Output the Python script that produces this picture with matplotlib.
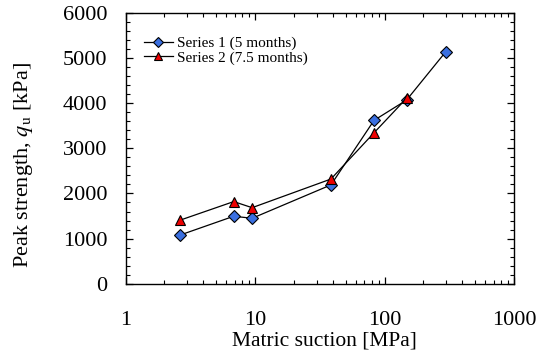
import matplotlib
matplotlib.use("Agg")
import matplotlib.pyplot as plt
from matplotlib.ticker import MultipleLocator, LogLocator, NullFormatter, FixedLocator

plt.rcParams['font.family'] = ['Liberation Serif', 'DejaVu Serif']
plt.rcParams['mathtext.fontset'] = 'stix'

# data
suction_1 = [2.65, 6.85, 9.5, 38.6, 83, 148, 297]
strength_1 = [1080, 1495, 1450, 2190, 3620, 4070, 5140]
suction_2 = [2.65, 6.85, 9.5, 38.6, 83, 148]
strength_2 = [1410, 1820, 1685, 2320, 3345, 4110]
label_1 = 'Series 1 (5 months)'
label_2 = 'Series 2 (7.5 months)'

fig = plt.figure(figsize=(5.47, 3.51), dpi=100)
ax = fig.add_axes([125.5 / 547, 1 - 283.7 / 351, (514 - 125.5) / 547, (283.7 - 13) / 351])

ax.plot(suction_1, strength_1, color='black', lw=0.9, marker='D', ms=6,
        mfc='#3a6fe0', mec='black', mew=0.8, label=label_1)
ax.plot(suction_2, strength_2, color='black', lw=0.9, marker='^', ms=7.5,
        mfc='#ee0000', mec='black', mew=0.8, label=label_2)

ax.set_xscale('log')
ax.set_xlim(1, 1000)
ax.set_ylim(0, 6000)
ax.yaxis.set_major_locator(MultipleLocator(1000))
ax.yaxis.set_minor_locator(MultipleLocator(200))
ax.xaxis.set_major_locator(FixedLocator([1, 10, 100, 1000]))
ax.xaxis.set_minor_locator(LogLocator(base=10, subs=range(2, 10)))
ax.xaxis.set_minor_formatter(NullFormatter())
ax.set_xticklabels(['1', '10', '100', '1000'])

ax.tick_params(which='both', direction='in', top=True, right=True, labelsize=16)
ax.tick_params(which='major', length=5, width=0.9)
ax.tick_params(which='minor', length=3, width=0.8)
ax.tick_params(axis='x', which='major', pad=20)
ax.tick_params(axis='y', which='major', pad=13)
for s in ax.spines.values():
    s.set_linewidth(1.0)

ax.set_xlabel('Matric suction [MPa]', fontsize=15.5)
ax.set_ylabel(r'Peak strength, $q$$_{\rm u}$ [kPa]', fontsize=16)
ax.xaxis.set_label_coords(0.513, -0.175)
ax.yaxis.set_label_coords(-0.233, 0.44)

ax.legend(loc='upper left', frameon=False, fontsize=11, handlelength=1.85,
          handletextpad=0.3, borderaxespad=0.5, bbox_to_anchor=(0.013, 0.965),
          labelspacing=0.05, markerscale=0.8)

fig.savefig('out.png', dpi=100)
